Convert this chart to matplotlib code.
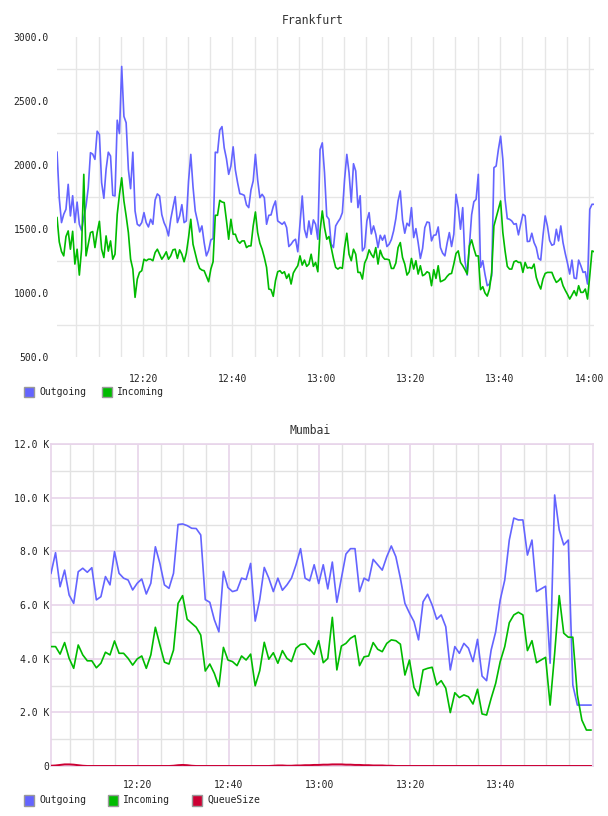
import numpy as np
import matplotlib.pyplot as plt
from matplotlib.patches import Rectangle

# ---- Frankfurt, one sample every 30 s starting 12:00:39 ----
fra_outgoing = [
    2100, 1740, 1550, 1615, 1654, 1849, 1602, 1760, 1550, 1710,
    1537, 1488, 1590, 1680, 1823, 2096, 2085, 2044, 2264, 2238,
    1862, 1740, 1966, 2100, 2070, 1763, 1758, 2350, 2246, 2770,
    2380, 2330, 1966, 1815, 2100, 1641, 1537, 1524, 1550, 1628,
    1550, 1516, 1576, 1537, 1727, 1774, 1758, 1612, 1550, 1511,
    1446, 1576, 1667, 1753, 1550, 1602, 1690, 1550, 1563, 1875,
    2083,
    1830, 1641, 1563, 1477, 1524, 1394, 1290, 1332, 1415, 1425,
    2100, 2096, 2272, 2300, 2134, 2049, 1927, 1992, 2142, 1961,
    1862, 1776, 1771, 1763, 1688, 1667, 1805, 1875, 2083, 1883,
    1745, 1771, 1745, 1537, 1607, 1610, 1675, 1719, 1563, 1550,
    1537, 1555, 1511, 1363, 1381, 1407, 1420, 1322, 1537, 1758,
    1498, 1433, 1563, 1459, 1571, 1537, 1420, 2121, 2173, 1940,
    1600, 1576, 1381, 1355, 1524, 1555, 1581, 1628, 1888, 2083,
    1940, 1710, 2010, 1953, 1667, 1760, 1329, 1355, 1563, 1628,
    1462, 1524, 1459, 1355, 1451, 1412, 1451, 1363, 1381, 1418,
    1485, 1581, 1719, 1797, 1571, 1467, 1545, 1524, 1667, 1433,
    1503, 1394, 1270, 1348, 1511, 1555, 1550, 1407, 1451, 1454,
    1516, 1355, 1311, 1290, 1389, 1472, 1363, 1459, 1771, 1667,
    1498,
    1667, 1252, 1140, 1368, 1612, 1713, 1732, 1927, 1200, 1252,
    1145, 1057, 1070, 1135, 1979, 1992, 2121, 2225, 2044, 1732,
    1581, 1576, 1563, 1537, 1542, 1454, 1537, 1615, 1602, 1402,
    1404, 1467, 1394, 1355, 1270, 1257, 1446, 1602, 1524, 1410,
    1373, 1381, 1498, 1407, 1524, 1394, 1309, 1234, 1148, 1257,
    1117, 1112, 1257, 1213, 1161, 1166, 1070, 1654, 1693, 1693,
]
fra_incoming = [
    1589, 1399, 1324, 1290, 1441, 1485, 1342, 1482, 1226, 1342,
    1140, 1342, 1927, 1290, 1381, 1472, 1480, 1355, 1472, 1560,
    1342, 1277, 1446, 1327, 1407, 1264, 1303, 1615, 1771, 1900,
    1719, 1602, 1472, 1264, 1187, 966, 1109, 1161, 1174, 1264,
    1252, 1264, 1264, 1252, 1316, 1342, 1303, 1264, 1290, 1322,
    1264, 1290, 1337, 1342, 1270, 1337, 1303, 1244, 1311, 1433,
    1576,
    1381, 1311, 1239, 1192, 1179, 1174, 1130, 1088, 1187, 1244,
    1607, 1607, 1724, 1711, 1706, 1568, 1420, 1576, 1459, 1459,
    1407, 1389, 1407, 1407, 1355, 1368, 1368, 1524, 1633, 1472,
    1389, 1342, 1277, 1200, 1031, 1026, 974, 1096, 1166, 1174,
    1153, 1166, 1114, 1148, 1070, 1156, 1187, 1213, 1290, 1218,
    1257, 1208, 1226, 1303, 1208, 1239, 1166, 1485, 1641, 1511,
    1420, 1441, 1355, 1270, 1200, 1187, 1200, 1192, 1355, 1467,
    1303, 1252, 1342, 1303, 1161, 1161, 1109, 1234, 1272, 1337,
    1301, 1277, 1355, 1226, 1334, 1285, 1264, 1264, 1259, 1192,
    1192, 1234, 1355, 1394, 1277, 1226, 1140, 1166, 1270, 1187,
    1252, 1148, 1213, 1135, 1145, 1166, 1156, 1057, 1182, 1114,
    1213, 1088, 1096, 1106, 1130, 1148, 1153, 1226, 1309, 1329,
    1239,
    1213, 1182, 1148, 1368, 1415, 1348, 1290, 1290, 1026, 1049,
    1000, 976, 1031, 1161, 1524, 1589, 1654, 1719, 1472, 1329,
    1208, 1187, 1187, 1244, 1252, 1239, 1239, 1161, 1239, 1195,
    1200, 1192, 1226, 1122, 1070, 1031, 1109, 1153, 1161, 1161,
    1161, 1117, 1083, 1096, 1117, 1057, 1021, 989, 953, 984,
    1018, 979, 1057, 1005, 1005, 1031, 953, 1135, 1329, 1322,
]

# ---- Mumbai, one sample per minute starting 12:00:50 ----
mum_outgoing = [
    7180, 7950, 6680, 7300, 6370, 6060, 7240, 7370, 7220, 7390,
    6190, 6310, 7060, 6750, 7990, 7180, 7000, 6930, 6560, 6810,
    6970, 6410, 6810, 8170, 7550, 6750, 6620, 7180, 9000, 9020,
    8960, 8860, 8850, 8610, 6200, 6100, 5450, 5000, 7250, 6650,
    6500, 6550, 7000, 6950, 7550, 5400, 6200, 7400, 7000, 6500,
    7000, 6550, 6750, 7000, 7500, 8100, 7000, 6900, 7500, 6800,
    7500, 6600, 7600, 6100, 7000, 7900, 8100, 8100, 6500, 7000,
    6900, 7700, 7500, 7300, 7800, 8200, 7800, 7000, 6060, 5700,
    5380, 4700, 6120, 6400, 6000, 5470, 5630, 5190, 3580, 4450,
    4200, 4570, 4390, 3890, 4720, 3350, 3180, 4320, 5000, 6190,
    6930, 8420, 9240, 9170, 9170, 7860, 8420, 6500, 6600, 6700,
    3830, 10100, 8800, 8240, 8420, 3020, 2270, 2270, 2270, 2270,
]
mum_incoming = [
    4450, 4450, 4170, 4600, 4010, 3640, 4510, 4140, 3920, 3920,
    3660, 3830, 4240, 4140, 4660, 4200, 4200, 4010, 3760, 3990,
    4100, 3640, 4140, 5170, 4510, 3870, 3800, 4320, 6060, 6350,
    5470, 5320, 5170, 4880, 3540, 3800, 3450, 2960, 4420, 3950,
    3890, 3740, 4100, 3950, 4170, 2990, 3550, 4610, 3980, 4220,
    3830, 4300, 4010, 3890, 4390, 4530, 4550, 4360, 4160, 4670,
    3850, 4010, 5540, 3580, 4470, 4570, 4760, 4860, 3740, 4070,
    4100, 4600, 4350, 4260, 4570, 4700, 4670, 4540, 3390, 3950,
    2930, 2620, 3580, 3640, 3680, 3020, 3180, 2900, 1990, 2730,
    2550, 2650, 2580, 2310, 2860, 1940, 1900, 2520, 3080, 3890,
    4450, 5340, 5630, 5730, 5630, 4300, 4670, 3850, 3950, 4050,
    2270, 4200, 6350, 4950, 4800, 4800, 2650, 1710, 1340, 1340,
]
mum_queue = [
    10, 20, 40, 60, 60, 50, 30, 10, 0, 0,
    0, 0, 0, 0, 0, 0, 0, 0, 0, 0,
    0, 0, 0, 0, 0, 0, 0, 10, 30, 40,
    30, 10, 0, 0, 0, 0, 0, 0, 0, 0,
    0, 0, 0, 0, 0, 0, 0, 0, 0, 10,
    20, 20, 10, 10, 20, 20, 30, 30, 40, 40,
    50, 50, 60, 60, 60, 50, 50, 40, 40, 30,
    30, 20, 20, 20, 10, 10, 0, 0, 0, 0,
    0, 0, 0, 0, 0, 0, 0, 0, 0, 0,
    0, 0, 0, 0, 0, 0, 0, 0, 0, 0,
    0, 0, 0, 0, 0, 0, 0, 0, 0, 0,
    0, 0, 0, 0, 0, 0, 0, 0, 0, 0,
]

tick_minutes = [20, 40, 60, 80, 100, 120]
tick_labels = ['12:20', '12:40', '13:00', '13:20', '13:40', '14:00']

BLUE = '#6464ff'
GREEN = '#00bb00'
RED = '#cc0033'
MONO = 'DejaVu Sans Mono'

fra_t = 0.65 + 0.5 * np.arange(len(fra_outgoing))
mum_t = 0.83 + 1.0 * np.arange(len(mum_outgoing))

W, H = 608, 816
fig = plt.figure(figsize=(W / 100, H / 100), dpi=100)


def box(l, t, r, b):
    return [l / W, 1 - b / H, (r - l) / W, (b - t) / H]


def legend(items, y):
    for x, col, label in items:
        fig.add_artist(Rectangle((x / W, 1 - (y + 5.5) / H), 10 / W, 11 / H,
                                 transform=fig.transFigure, facecolor=col,
                                 edgecolor='#999999', lw=1))
        fig.text((x + 15) / W, 1 - y / H, label, family=MONO, fontsize=7,
                 va='center', ha='left', color='#222222')


# ---------------- Frankfurt ----------------
ax1 = fig.add_axes(box(57, 37, 594, 357))
ax1.plot(fra_t, fra_outgoing, color=BLUE, lw=1.2, zorder=3)
ax1.plot(fra_t, fra_incoming, color=GREEN, lw=1.2, zorder=3)
ax1.set_xlim(0.64, 121.1)
ax1.set_ylim(500, 3000)
ax1.set_yticks(np.arange(500, 3001, 500))
ax1.set_yticklabels(['%.1f' % v for v in np.arange(500, 3001, 500)])
ax1.set_yticks(np.arange(750, 3000, 500), minor=True)
ax1.set_xticks(tick_minutes)
ax1.set_xticklabels(tick_labels)
ax1.set_xticks(np.arange(5, 121, 5), minor=True)
ax1.grid(True, which='minor', color='#e6e6e6', lw=1)
ax1.grid(False, which='major', axis='y')
ax1.grid(True, which='major', axis='x', color='#e6e6e6', lw=1)
for s in ax1.spines.values():
    s.set_visible(False)
ax1.tick_params(which='both', length=0)
ax1.tick_params(axis='y', pad=6)
ax1.tick_params(axis='x', pad=12)
for lab in ax1.get_xticklabels() + ax1.get_yticklabels():
    lab.set_family(MONO)
    lab.set_fontsize(7)
    lab.set_color('#222222')
fig.text(313 / W, 1 - 20 / H, 'Frankfurt', family=MONO, fontsize=8.3,
         ha='center', va='center', color='#333333')
legend([(24, BLUE, 'Outgoing'), (102, GREEN, 'Incoming')], 392)

# ---------------- Mumbai ----------------
ax2 = fig.add_axes(box(51, 444, 593, 766))
ax2.plot(mum_t, mum_outgoing, color=BLUE, lw=1.2, zorder=3)
ax2.plot(mum_t, mum_incoming, color=GREEN, lw=1.2, zorder=3)
ax2.plot(mum_t, mum_queue, color=RED, lw=1.4, zorder=4)
ax2.set_xlim(0.83, 120.28)
ax2.set_ylim(0, 12000)
ax2.set_yticks(np.arange(0, 12001, 2000))
ax2.set_yticklabels(['0'] + ['%.1f K' % (v / 1000) for v in np.arange(2000, 12001, 2000)])
ax2.set_yticks(np.arange(1000, 12000, 2000), minor=True)
ax2.set_xticks(tick_minutes[:5])
ax2.set_xticklabels(tick_labels[:5])
ax2.set_xticks([m for m in range(5, 120, 5) if m % 20], minor=True)
ax2.grid(True, which='minor', color='#e2e2e2', lw=1)
ax2.grid(True, which='major', color='#e8d4ea', lw=1.2)
for s in ax2.spines.values():
    s.set_color('#e8d4ea')
    s.set_linewidth(1.2)
ax2.tick_params(which='both', length=0)
ax2.tick_params(axis='y', pad=1)
ax2.tick_params(axis='x', pad=10)
for lab in ax2.get_xticklabels() + ax2.get_yticklabels():
    lab.set_family(MONO)
    lab.set_fontsize(7)
    lab.set_color('#222222')
fig.text(310 / W, 1 - 430 / H, 'Mumbai', family=MONO, fontsize=8.3,
         ha='center', va='center', color='#333333')
legend([(24, BLUE, 'Outgoing'), (108, GREEN, 'Incoming'), (192, RED, 'QueueSize')], 800)

fig.savefig('out.png', dpi=100, facecolor='white')
